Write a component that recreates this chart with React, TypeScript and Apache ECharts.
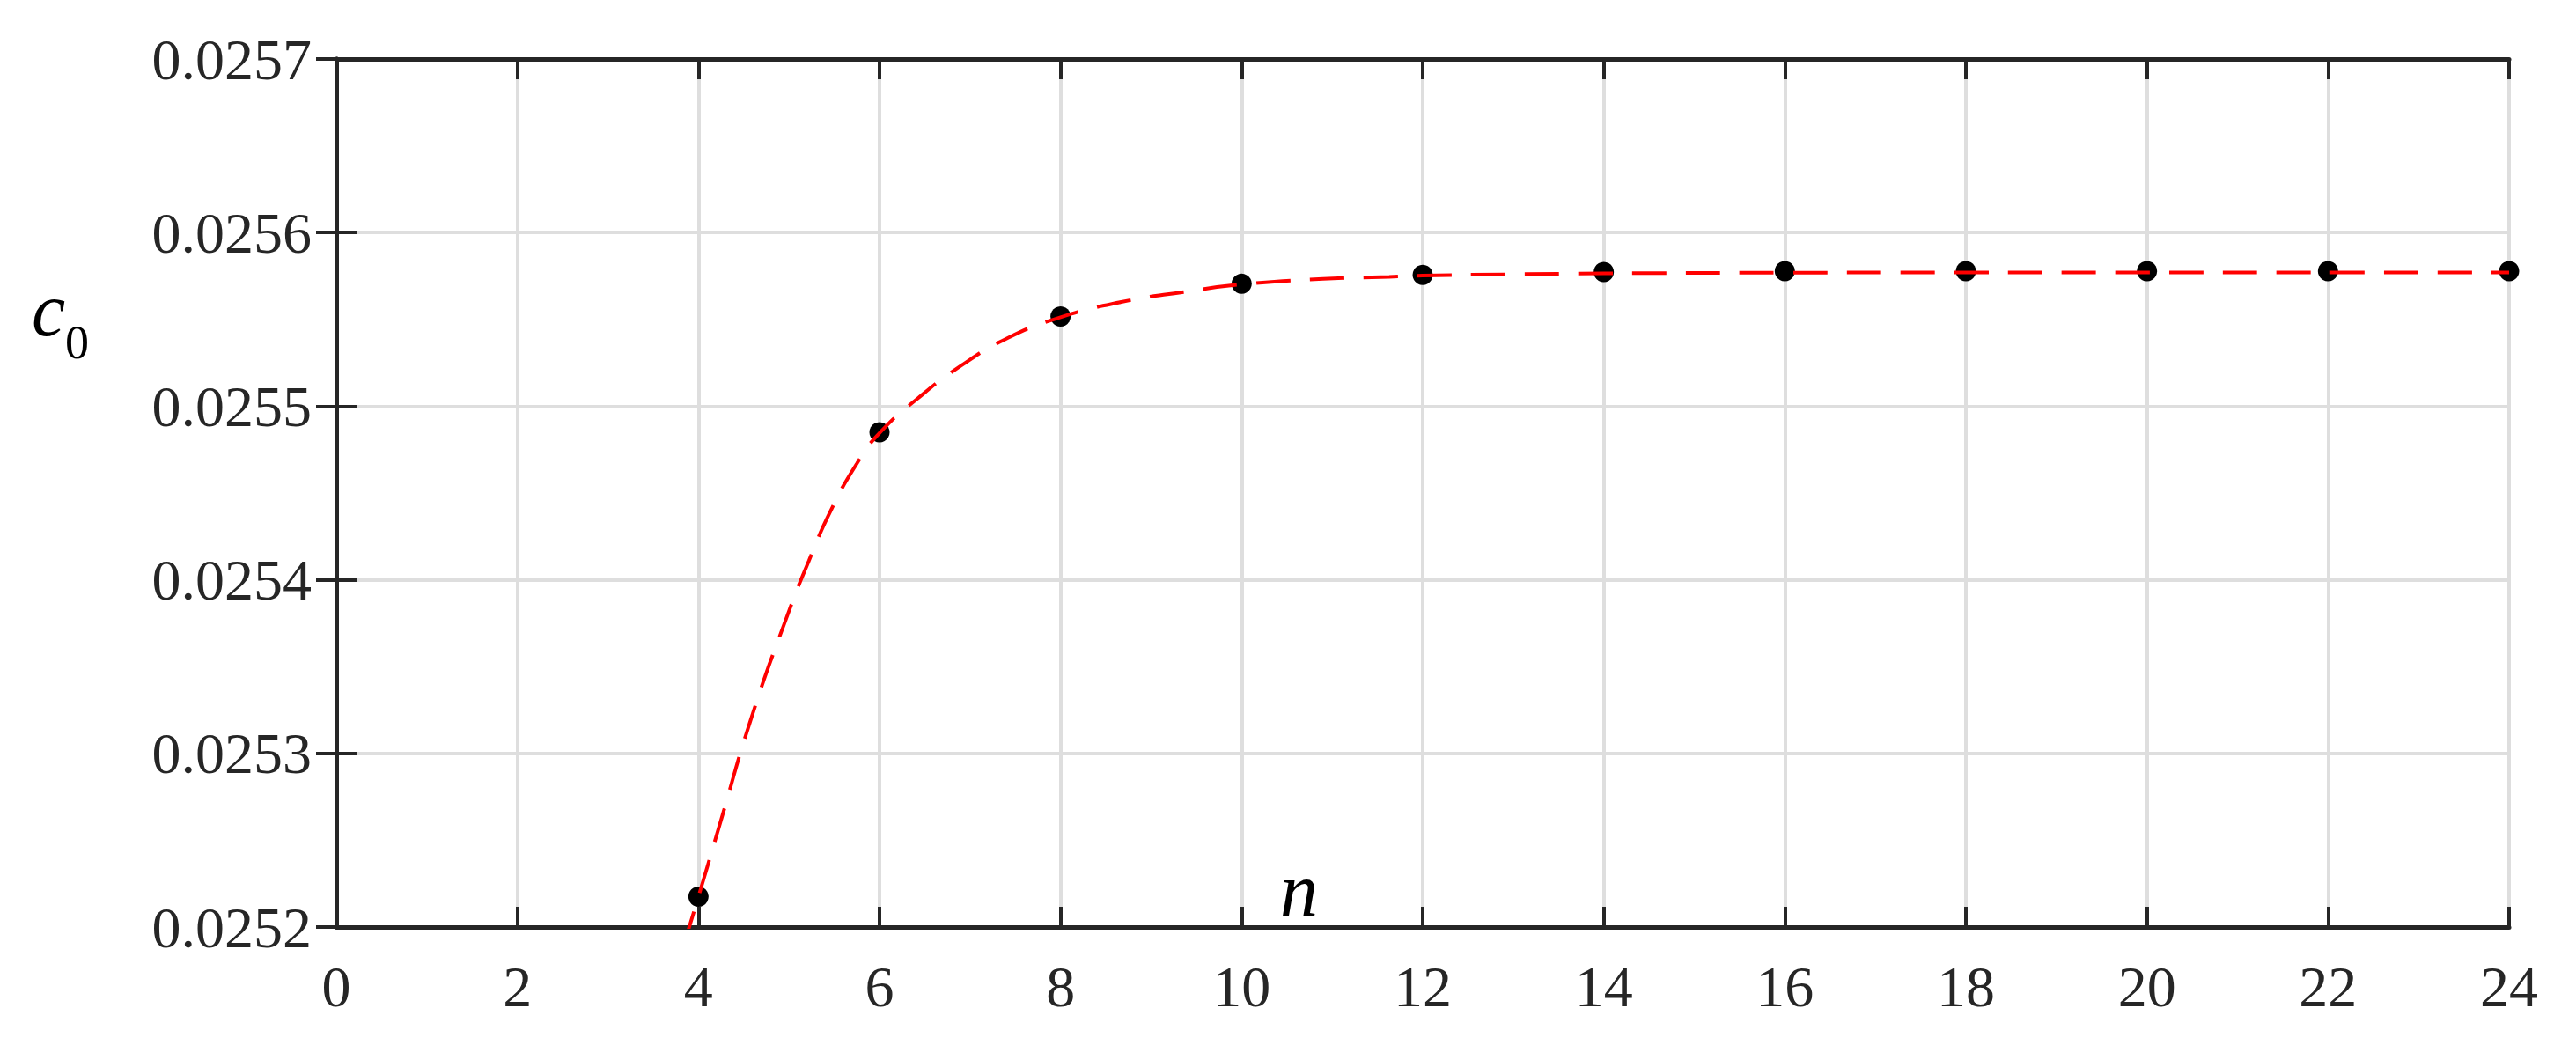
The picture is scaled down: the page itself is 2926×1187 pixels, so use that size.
import { useEffect, useRef } from "react";
import * as echarts from "echarts";

// computed points: n vs c0
const nValues = [4, 6, 8, 10, 12, 14, 16, 18, 20, 22, 24];
const c0Values = [
  0.0252175, 0.025485, 0.0255517, 0.0255705, 0.0255756, 0.0255773,
  0.0255778, 0.0255778, 0.0255778, 0.0255778, 0.0255778,
];

// fitted curve
const fitN = [
  3.84, 4.0, 4.23, 4.59, 5.0, 5.22, 5.46, 5.75, 6.0, 6.42, 6.9, 7.42, 8.0,
  8.67, 9.39, 10.0, 10.9, 11.63, 12, 13, 14, 16, 18, 20, 22, 24,
];
const fitC = [
  0.02519, 0.0252175, 0.0252581, 0.0253214, 0.025382, 0.025411, 0.0254397,
  0.025467, 0.0254845, 0.0255044, 0.0255233, 0.0255394, 0.0255512, 0.02556,
  0.025566, 0.0255702, 0.0255733, 0.0255745, 0.0255752, 0.025576,
  0.0255765, 0.0255769, 0.025577, 0.025577, 0.025577, 0.025577,
];

const xTicks = { min: 0, max: 24, step: 2 };
const yTicks = { min: 0.0252, max: 0.0257, step: 0.0001 };

const FONT = "'Liberation Serif', 'DejaVu Serif', serif";
const INK = "#262626";

export default function App() {
  const chartRef = useRef<HTMLDivElement>(null);

  useEffect(() => {
    if (!chartRef.current) return;
    const chart = echarts.init(chartRef.current, null, { renderer: "svg" });

    const frame = { show: true, lineStyle: { color: INK, width: 5 } };
    const tick = {
      show: true,
      inside: true,
      length: 23,
      lineStyle: { color: INK, width: 4 },
    };
    const grid = { show: true, lineStyle: { color: "#dedede", width: 4 } };
    const label = { fontFamily: FONT, fontSize: 66, color: INK };

    chart.setOption({
      animation: false,
      backgroundColor: "#ffffff",
      grid: { left: 382, top: 67, width: 2468, height: 986 },
      xAxis: [
        {
          type: "value",
          position: "bottom",
          min: xTicks.min,
          max: xTicks.max,
          interval: xTicks.step,
          axisLine: frame,
          axisTick: tick,
          splitLine: grid,
          axisLabel: { ...label, margin: 34 },
        },
        {
          type: "value",
          position: "top",
          min: xTicks.min,
          max: xTicks.max,
          interval: xTicks.step,
          axisLine: frame,
          axisTick: tick,
          splitLine: { show: false },
          axisLabel: { show: false },
        },
      ],
      yAxis: [
        {
          type: "value",
          position: "left",
          min: yTicks.min,
          max: yTicks.max,
          interval: yTicks.step,
          axisLine: frame,
          axisTick: tick,
          splitLine: grid,
          axisLabel: {
            ...label,
            margin: 28,
            formatter: (v: number) => v.toFixed(4),
          },
        },
        {
          type: "value",
          position: "right",
          min: yTicks.min,
          max: yTicks.max,
          interval: yTicks.step,
          axisLine: frame,
          axisTick: tick,
          splitLine: { show: false },
          axisLabel: { show: false },
        },
      ],
      graphic: [
        {
          type: "text",
          x: 36,
          y: 352,
          style: {
            text: "c",
            font: `italic 86px ${FONT}`,
            fill: "#000",
            textVerticalAlign: "middle",
          },
        },
        {
          type: "text",
          x: 74,
          y: 389,
          style: {
            text: "0",
            font: `54px ${FONT}`,
            fill: "#000",
            textVerticalAlign: "middle",
          },
        },
        {
          type: "text",
          x: 1454,
          y: 1011,
          style: {
            text: "n",
            font: `italic 86px ${FONT}`,
            fill: "#000",
            textVerticalAlign: "middle",
          },
        },
      ],
      series: [
        {
          type: "scatter",
          data: nValues.map((n, i) => [n, c0Values[i]]),
          symbol: "circle",
          symbolSize: 23,
          itemStyle: { color: "#000", opacity: 1 },
          z: 3,
        },
        {
          type: "line",
          data: fitN.map((n, i) => [n, fitC[i]]),
          smooth: 0.5,
          showSymbol: false,
          clip: true,
          lineStyle: { color: "#ff0000", width: 4, type: [39, 22] },
          z: 4,
        },
      ],
    });

    return () => {
      chart.dispose();
    };
  }, []);

  return (
    <div
      ref={chartRef}
      style={{ position: "fixed", left: 0, top: 0, width: 2926, height: 1187 }}
    />
  );
}
